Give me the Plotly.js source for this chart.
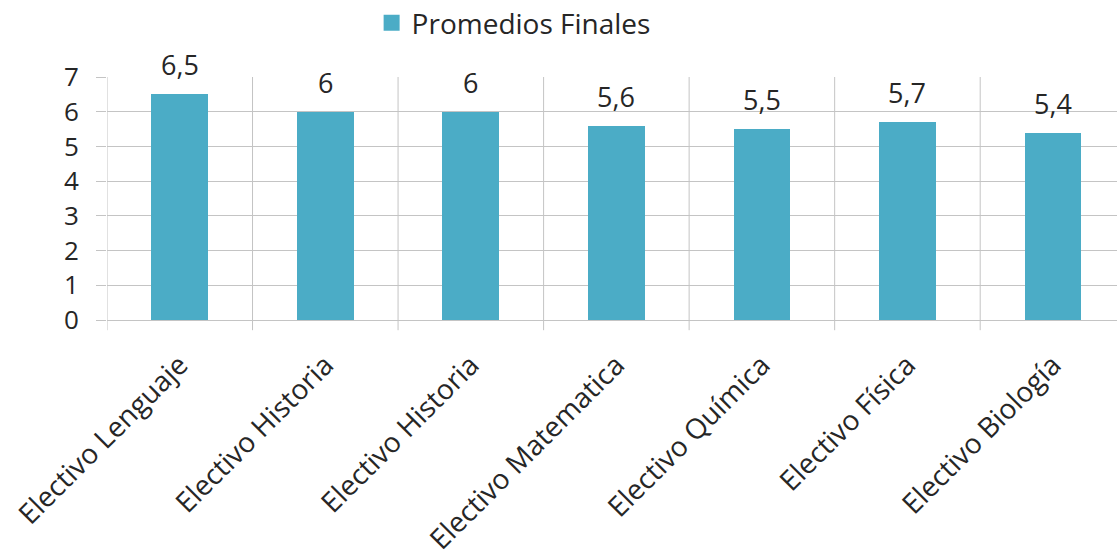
<!DOCTYPE html>
<html>
<head>
<meta charset="utf-8">
<script src="https://cdn.plot.ly/plotly-3.0.1.min.js"></script>
<style>html,body{margin:0;padding:0;background:#fff;}#chart{width:1117px;height:560px;}</style>
</head>
<body>
<div id="chart"></div>
<script>
const categories = ["Electivo Lenguaje", "Electivo Historia", "Electivo Historia", "Electivo Matematica", "Electivo Química", "Electivo Física", "Electivo Biología"];
const values = [6.5, 6, 6, 5.6, 5.5, 5.7, 5.4];
const valueLabels = ["6,5", "6", "6", "5,6", "5,5", "5,7", "5,4"];
const seriesName = "Promedios Finales";
const yTicks = [0, 1, 2, 3, 4, 5, 6, 7];

const idx = categories.map((c, i) => i);
const gridCol = "#c4c4c4";
const textCol = "#262626";
const barCol = "#4BACC6";
const font = "Open Sans, sans-serif";

const trace = {
  type: "bar",
  x: idx,
  y: values,
  name: seriesName,
  width: 0.39,
  marker: {color: barCol},
  showlegend: false,
  hoverinfo: "skip"
};

// legend entry with a larger square key
const legendKey = {
  type: "scatter", mode: "markers",
  x: [null], y: [null],
  name: seriesName,
  marker: {symbol: "square", size: 19, color: barCol},
  showlegend: true, hoverinfo: "skip"
};

const annotations = idx.map((i) => ({
  x: i, y: values[i], xref: "x", yref: "y",
  text: valueLabels[i], showarrow: false,
  yanchor: "bottom", yshift: 9,
  font: {family: font, size: 27, color: textCol}
}));

// category boundary lines (grid + outside tick)
const shapes = [];
for (let i = 0; i <= categories.length; i++) {
  shapes.push({
    type: "line", xref: "x", yref: "paper",
    x0: i - 0.5, x1: i - 0.5, y0: -0.042, y1: 1,
    line: {color: gridCol, width: 1}, layer: "below"
  });
}

const layout = {
  width: 1117, height: 560,
  margin: {l: 107, r: 0, t: 77, b: 240, autoexpand: false},
  paper_bgcolor: "#fff", plot_bgcolor: "#fff",
  font: {family: font, color: textCol},
  showlegend: true,
  legend: {
    orientation: "h", x: 0.262, xanchor: "left", y: 1.325, yanchor: "top",
    itemwidth: 30,
    font: {family: font, size: 28, color: textCol}
  },
  bargap: 0,
  xaxis: {
    range: [-0.5, 6.44],
    tickmode: "array", tickvals: idx, ticktext: categories,
    tickangle: -45, showgrid: false, zeroline: false, showline: false,
    ticks: "", ticklabelstandoff: 22,
    tickfont: {family: font, size: 28, color: textCol},
    fixedrange: true
  },
  yaxis: {
    range: [0, 7], tickmode: "array", tickvals: yTicks,
    showgrid: true, gridcolor: gridCol, gridwidth: 1,
    zeroline: true, zerolinecolor: gridCol, zerolinewidth: 1,
    showline: false, ticks: "outside", ticklen: 10, tickcolor: gridCol,
    tickfont: {family: font, size: 26, color: textCol},
    ticklabelstandoff: 12,
    fixedrange: true
  },
  annotations: annotations,
  shapes: shapes
};

Plotly.newPlot("chart", [trace, legendKey], layout, {displayModeBar: false, staticPlot: true});
</script>
</body>
</html>
